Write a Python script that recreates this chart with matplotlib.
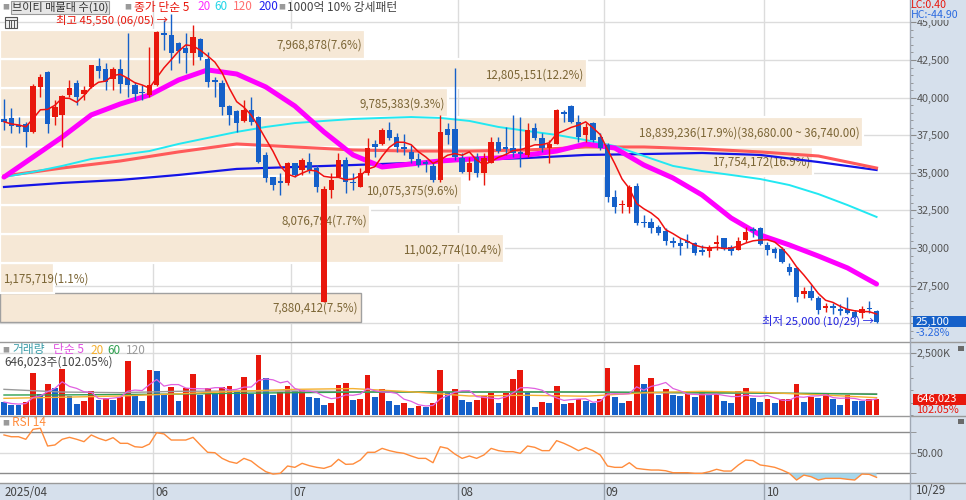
import numpy as np
import pandas as pd
import matplotlib.pyplot as plt
from matplotlib.patches import Rectangle
from matplotlib.lines import Line2D
from matplotlib.ticker import MultipleLocator, FuncFormatter, FixedLocator
from matplotlib.transforms import blended_transform_factory

plt.rcParams['font.family'] = ['Noto Sans CJK KR', 'DejaVu Sans']

W, H, DPI = 966, 500, 100

# ---- daily candles (2025/04/29 .. 2025/10/29), price in won ----
opens = [38600, 38650, 38150, 38250, 37700, 40700, 41700, 38700, 38850, 40150,
         40950, 40250, 40700, 42100, 41900, 41250, 41900, 41300, 40850, 40400,
         40150, 40850, 44300, 44150, 43650, 43300, 42950, 43900, 42550, 41150,
         40950, 39450, 39100, 38450, 39200, 38700, 36200, 34700, 34450, 34350,
         35650, 35200, 35700, 35300, 26400, 33850, 34700, 35850, 34400, 34050,
         35000, 36900, 36950, 37850, 37400, 36700, 36400, 35950, 35700, 35450,
         34550, 37900, 37900, 36000, 35050, 36050, 35000, 35650, 37050, 36700,
         36650, 36400, 36200, 38000, 37300, 36650, 36950, 39050, 39450, 38400,
         37500, 38300, 37400, 36850, 33400, 32850, 32750, 34150, 31750, 31750,
         31400, 31150, 30450, 30350, 30450, 30350, 29850, 29800, 30300, 30650,
         30050, 29850, 30550, 31250, 31350, 30200, 29950, 29950, 28750, 28700,
         26950, 27150, 26700, 26050, 26150, 25950, 25950, 25750, 25700, 26000,
         25800]
highs = [39900, 39300, 38700, 38400, 40900, 41550, 41750, 39850, 40150, 41150,
         41150, 40800, 42200, 42650, 42300, 42050, 42550, 44300, 41050, 40850,
         43350, 44400, 45150, 45550, 43700, 44300, 44850, 43950, 43050, 41350,
         41150, 39500, 39200, 39850, 40050, 38750, 36400, 34750, 35000, 35700,
         35650, 36000, 36300, 35500, 34100, 35000, 36300, 36050, 35000, 35300,
         37300, 37200, 38000, 38400, 37650, 37600, 36850, 36300, 35850, 35650,
         38850, 38300, 41950, 36300, 36050, 36300, 36300, 37400, 37400, 38050,
         38850, 38700, 38300, 38300, 37650, 37200, 39250, 39200, 39500, 38850,
         38300, 38400, 37650, 37000, 33850, 33200, 34200, 34350, 32200, 32000,
         31550, 31350, 30750, 30650, 30950, 30400, 30200, 30200, 30850, 30700,
         30200, 30750, 31400, 31400, 31400, 30400, 30050, 30050, 29000, 28750,
         27400, 27550, 26800, 26350, 26350, 26250, 26750, 25900, 26150, 26500,
         25900]
lows = [37850, 37650, 37650, 36700, 37650, 40050, 37650, 38200, 36700, 40050,
        39500, 39850, 40650, 41300, 40500, 40500, 40300, 40050, 39850, 39850,
        40050, 40800, 43150, 41850, 42300, 41650, 42150, 42500, 40700, 40050,
        38850, 38200, 37700, 38400, 38200, 35650, 34400, 33850, 33550, 34200,
        34700, 34850, 35000, 33750, 26400, 33350, 34700, 33650, 33850, 34050,
        34850, 36050, 36850, 37200, 36400, 36200, 35650, 35400, 35050, 34400,
        34400, 36950, 35850, 35000, 34550, 34700, 34200, 35650, 36300, 36200,
        36050, 35400, 36050, 37200, 36400, 35650, 36950, 38400, 38300, 37050,
        37050, 37050, 36500, 33050, 32350, 32350, 32350, 31550, 31400, 31000,
        30850, 30200, 30050, 29550, 30000, 29550, 29550, 29400, 29850, 29850,
        29550, 29850, 30400, 30750, 30200, 29550, 29350, 29000, 28200, 26400,
        26700, 26550, 25600, 25750, 25650, 25550, 25600, 25350, 25350, 25700,
        25000]
closes = [38400, 38100, 38050, 37700, 40750, 41350, 38250, 39400, 40100, 40650,
          40050, 40500, 42150, 41750, 41050, 41900, 40900, 40850, 40250, 40300,
          40850, 44350, 44150, 42950, 43100, 42950, 44050, 42700, 41050, 41050,
          39400, 38850, 38300, 39200, 38400, 35700, 34650, 34200, 34350, 35650,
          34850, 35850, 35200, 34050, 33900, 34500, 35850, 34400, 34300, 35000,
          36650, 36700, 37850, 37300, 36700, 36600, 35900, 35500, 35600, 34550,
          37700, 37500, 36050, 35050, 35650, 35000, 36000, 37050, 36450, 36600,
          36300, 36250, 37850, 37300, 36650, 36950, 39200, 38900, 38400, 37400,
          38050, 37200, 36650, 33400, 32750, 32950, 34050, 31650, 31650, 31350,
          31000, 30450, 30350, 30150, 30350, 29700, 29750, 30050, 30400, 29950,
          29800, 30450, 31050, 31150, 30250, 29850, 29700, 29050, 28400, 26750,
          27150, 26700, 25900, 26150, 26050, 25850, 25700, 25400, 25950, 25950,
          25100]
volumes = [527000, 405000, 395000, 527000, 1688000, 864000, 1242000, 1080000, 1850000, 756000,
           459000, 567000, 972000, 594000, 675000, 621000, 743000, 2174000, 837000, 581000,
           1809000, 1790000, 837000, 1148000, 581000, 1107000, 1661000, 824000, 1107000, 837000,
           1121000, 1161000, 972000, 1553000, 864000, 2430000, 1485000, 797000, 945000, 1175000,
           972000, 1013000, 729000, 675000, 392000, 500000, 1202000, 1296000, 608000, 648000,
           1634000, 729000, 1040000, 581000, 392000, 473000, 284000, 351000, 324000, 500000,
           1809000, 932000, 1053000, 608000, 527000, 608000, 770000, 905000, 473000, 878000,
           1445000, 1809000, 932000, 311000, 527000, 500000, 1188000, 432000, 473000, 635000,
           554000, 486000, 635000, 1917000, 729000, 473000, 567000, 2025000, 1242000, 1485000,
           797000, 1040000, 810000, 756000, 837000, 729000, 972000, 837000, 850000, 581000,
           500000, 972000, 1107000, 675000, 540000, 648000, 500000, 635000, 650000, 1269000,
           540000, 743000, 675000, 905000, 662000, 392000, 810000, 581000, 570000, 633046,
           646023]
rsi = [67.2, 65.5, 65.5, 63.0, 72.7, 73.7, 56.5, 57.5, 63.0, 64.9,
       63.0, 60.7, 67.2, 64.0, 61.7, 64.6, 59.1, 59.1, 55.8, 55.2,
       58.4, 69.4, 68.2, 62.3, 62.3, 62.3, 64.9, 57.5, 50.4, 50.0,
       44.5, 41.3, 39.7, 44.5, 41.9, 36.4, 31.6, 29.3, 30.0, 37.1,
       35.8, 39.7, 37.4, 35.8, 34.8, 37.1, 43.6, 38.7, 39.0, 42.9,
       50.4, 50.4, 54.2, 52.0, 50.4, 49.4, 46.8, 44.5, 44.5, 40.3,
       55.8, 54.2, 48.7, 44.5, 46.8, 44.5, 47.8, 54.2, 52.0, 51.0,
       51.0, 49.4, 56.5, 55.2, 52.0, 52.0, 61.7, 59.1, 55.8, 52.0,
       54.9, 52.0, 47.8, 37.1, 35.8, 35.8, 40.3, 34.8, 33.9, 33.2,
       33.2, 32.5, 30.6, 30.6, 30.6, 30.0, 30.0, 31.6, 33.9, 32.2,
       32.2, 38.1, 42.9, 42.3, 38.1, 37.1, 35.8, 33.2, 30.0, 23.5,
       28.3, 26.7, 23.5, 25.1, 25.1, 25.1, 24.2, 23.5, 29.3, 29.0,
       26.1]

# moving averages (every 4th / 8th session)
ma20 = [34720, 36050, 37380, 38850, 39580, 40170, 41170, 41840, 41570, 40710,
        39440, 37720, 36190, 35390, 35590, 35790, 35920, 35990, 36190, 36450,
        36920, 36650, 35520, 34660, 33530, 32000, 30870, 30210, 29470, 28680, 27610]
ma60 = [34720, 35060, 35460, 35920, 36190, 36450, 36920, 37320, 37720, 38050,
        38310, 38450, 38580, 38650, 38710, 38650, 38450, 38050, 37780, 37520,
        37180, 36780, 36120, 35460, 35120, 34860, 34590, 34190, 33590, 32860, 32070]
ma120 = [34790, 35320, 35790, 36390, 36920, 36720, 36520, 36450,
         36450, 36520, 36720, 36720, 36590, 36390, 36120, 35320]
ma200 = [34060, 34330, 34530, 34860, 35260, 35390, 35520, 35660,
         35850, 35990, 36190, 36250, 36320, 36190, 35720, 35190]
vol_ma20 = [675, 720, 770, 860, 960, 1040, 1070, 940, 770, 800, 760, 900, 960, 920, 820, 702]
vol_ma60 = [810, 815, 830, 850, 880, 905, 925, 932, 932, 935, 935, 920, 905, 890, 870, 837]
vol_ma120 = [1040, 930, 905, 960, 972, 972, 945, 932, 932, 932, 920, 905, 890, 880, 870, 864]

# 매물대 (volume by price), 10 bands
band_low = [25100, 27040, 28980, 30920, 32860, 34800, 36740, 38680, 40620, 42560]
band_vol = [7880412, 1175719, 11002774, 8076794, 10075375,
            17754172, 18839236, 9785383, 12805151, 7968878]

month_start = [21, 40, 63, 83, 105]
month_label = ['06', '07', '08', '09', '10']
first_label = '2025/04'
last_label = '10/29'
high_date, low_date = '06/05', '10/29'
price_ticks = [25000, 27500, 30000, 32500, 35000, 37500, 40000, 42500, 45000]

RED = '#E8170C'
BLUE = '#1560C9'
STRIP = '#D6E0EC'
BAND = '#F6E8D6'
BAND_TXT = '#7B6535'
GRID = '#DCDCDC'

n = len(closes)
idx = np.arange(n)
o, h, l, c = (np.array(v, float) for v in (opens, highs, lows, closes))
vol = np.array(volumes, float)

fig = plt.figure(figsize=(W / DPI, H / DPI), dpi=DPI, facecolor='white')


def rect(x0, y0, x1, y1):
    return [x0 / W, 1 - y1 / H, (x1 - x0) / W, (y1 - y0) / H]


def ftext(x, y, s, **kw):
    kw.setdefault('fontsize', 8.5)
    kw.setdefault('va', 'center')
    kw.setdefault('zorder', 6)
    return fig.text(x / W, 1 - y / H, s, **kw)


def fbox(x0, y0, x1, y1, **kw):
    fig.add_artist(Rectangle((x0 / W, 1 - y1 / H), (x1 - x0) / W, (y1 - y0) / H,
                             transform=fig.transFigure, **kw))


def fline(x0, y0, x1, y1, **kw):
    fig.add_artist(Line2D([x0 / W, x1 / W], [1 - y0 / H, 1 - y1 / H],
                          transform=fig.transFigure, **kw))


def clean(a):
    for s in a.spines.values():
        s.set_visible(False)
    a.set_xticks([])


fbox(910, 0, 966, 500, fc=STRIP, ec='none', zorder=-10)

XL = (-0.55, 124.6)
PY = (23824, 46488)

# grid layer
axg = fig.add_axes(rect(0, 0, 910, 341), zorder=0)
axg.set_xlim(XL)
axg.set_ylim(PY)
clean(axg)
axg.set_yticks(price_ticks)
axg.tick_params(length=0, labelleft=False)
axg.grid(axis='y', color=GRID, lw=1)
for m in month_start:
    axg.axvline(m - 0.5, color=GRID, lw=1)

# 매물대 layer
axb = fig.add_axes(rect(0, 0, 910, 341), zorder=1)
axb.patch.set_visible(False)
axb.set_axis_off()
axb.set_ylim(PY)
band_px = 863
axb.set_xlim(0, max(band_vol) * 910 / band_px)
step = band_low[1] - band_low[0]
total = sum(band_vol)
imax = int(np.argmax(band_vol))
for k, (lo, bv) in enumerate(zip(band_low, band_vol)):
    cur = lo <= closes[-1] < lo + step
    axb.barh(lo, bv, height=step, align='edge', color=BAND,
             edgecolor='#A0A0A0' if cur else 'white', lw=1.0 if cur else 1.6)
    lab = f"{bv:,}({bv / total * 100:.1f}%)"
    if k == imax:
        lab += f"({lo + step:,.2f} ~ {lo:,.2f})"
    if bv / max(band_vol) * band_px < 100:
        axb.annotate(lab, xy=(0, lo + step / 2), xytext=(3, -1), textcoords='offset pixels',
                     ha='left', va='center', fontsize=8.3, color=BAND_TXT)
    else:
        axb.annotate(lab, xy=(bv, lo + step / 2), xytext=(-3, -1), textcoords='offset pixels',
                     ha='right', va='center', fontsize=8.3, color=BAND_TXT)

# price layer
ax = fig.add_axes(rect(0, 0, 910, 341), zorder=2)
ax.patch.set_visible(False)
ax.set_xlim(XL)
ax.set_ylim(PY)
clean(ax)
ax.yaxis.tick_right()
ax.set_yticks(price_ticks)
# the last-price box sits on top of the nearest tick label
ax.yaxis.set_major_formatter(
    FuncFormatter(lambda v, _: '' if abs(v - closes[-1]) < 600 else f"{v:,.0f}"))
ax.yaxis.set_minor_locator(MultipleLocator(500))
ax.tick_params(axis='y', which='major', length=4, color='#8A8A8A', labelcolor='#555555',
               labelsize=7.8, pad=1)
ax.tick_params(axis='y', which='minor', length=2, color='#8A8A8A')

i4 = np.arange(0, n, 4)
i8 = np.arange(0, n, 8)
ax.plot(i8, ma200, color='#1414E6', lw=1.6, zorder=2)
ax.plot(i8, ma120, color='#FF5A5A', lw=2.2, zorder=2)
ax.plot(i4, ma60, color='#22E8F2', lw=1.4, zorder=2)
ax.plot(i4, ma20, color='#FF00FF', lw=3.6, zorder=2, solid_capstyle='round')

up = c >= o
cols = np.where(up, RED, BLUE)
ax.vlines(idx, l, h, colors=cols, lw=1, zorder=3)
ax.bar(idx, np.abs(c - o), bottom=np.minimum(o, c), width=0.74, color=cols, lw=0, zorder=4)
ma5 = pd.Series(closes).rolling(5, min_periods=1).mean()
ax.plot(idx, ma5, color='#F01010', lw=1.1, zorder=5)

ihi = int(np.argmax(h))
ilo = int(np.argmin(l))
ax.annotate(f"최고 {int(h[ihi]):,} ({high_date}) →", xy=(ihi, h[ihi]), xytext=(-3, -6),
            textcoords='offset pixels', ha='right', va='center', color=RED, fontsize=8.2, zorder=6)
ax.annotate(f"최저 {int(l[ilo]):,} ({low_date}) →", xy=(ilo, l[ilo]), xytext=(-3, 3),
            textcoords='offset pixels', ha='right', va='center', color='#2020E0', fontsize=8.2,
            zorder=6)

# volume panel
axv = fig.add_axes(rect(0, 342, 910, 415), zorder=0)
axv.set_xlim(XL)
axv.set_ylim(0, 2.958e6)
clean(axv)
vcols = [BLUE] + [RED if vol[i] >= vol[i - 1] else BLUE for i in range(1, n)]
axv.axhline(2.5e6, color=GRID, lw=1)
for m in month_start:
    axv.axvline(m - 0.5, color=GRID, lw=1)
axv.bar(idx, vol, width=0.8, color=vcols, lw=0, zorder=2)
axv.plot(i8, np.array(vol_ma120) * 1000, color='#9A9A9A', lw=1, zorder=3)
axv.plot(i8, np.array(vol_ma60) * 1000, color='#30A050', lw=1, zorder=3)
axv.plot(i8, np.array(vol_ma20) * 1000, color='#F5B030', lw=1, zorder=3)
axv.plot(idx, pd.Series(vol).rolling(5, min_periods=1).mean(), color='#E060E0', lw=0.9, zorder=3)
axv.yaxis.tick_right()
axv.set_yticks([2.5e6])
axv.yaxis.set_major_formatter(FuncFormatter(lambda v, _: f"{v / 1000:,.0f}K"))
axv.yaxis.set_minor_locator(MultipleLocator(5e5))
axv.tick_params(axis='y', which='major', length=4, color='#8A8A8A', labelcolor='#555555',
                labelsize=7.8, pad=1)
axv.tick_params(axis='y', which='minor', length=2, color='#8A8A8A')

# RSI panel
axr = fig.add_axes(rect(0, 416, 910, 482.5), zorder=0)
axr.set_xlim(XL)
axr.set_ylim(21.1, 85.6)
clean(axr)
for m in month_start:
    axr.axvline(m - 0.5, color=GRID, lw=1)
axr.axhline(50, color=GRID, lw=1)
axr.axhline(70, color='#8C8C8C', lw=1)
axr.axhline(30, color='#8C8C8C', lw=1)
r = np.array(rsi)
axr.fill_between(idx, r, 30, where=r < 30, interpolate=True, color='#A8D8EC', lw=0, zorder=2)
axr.plot(idx, r, color='#FF8C3C', lw=1, zorder=3)
axr.yaxis.tick_right()
axr.set_yticks([50])
axr.yaxis.set_major_formatter(FuncFormatter(lambda v, _: f"{v:.2f}"))
axr.yaxis.set_minor_locator(FixedLocator([30, 70]))
axr.tick_params(axis='y', which='major', length=4, color='#8A8A8A', labelcolor='#555555',
                labelsize=7.8, pad=1)
axr.tick_params(axis='y', which='minor', length=4, color='#8A8A8A')

# date strip
axd = fig.add_axes(rect(0, 483, 910, 500), zorder=0)
axd.set_xlim(XL)
axd.set_ylim(0, 1)
axd.set_facecolor(STRIP)
clean(axd)
axd.set_yticks([])
bt = blended_transform_factory(axd.transData, axd.transAxes)
axd.text(XL[0] + 0.6, 0.45, first_label, transform=bt, va='center', fontsize=8.3, color='#444444')
for m, lab in zip(month_start, month_label):
    axd.axvline(m - 0.5, color='#9AA4B0', lw=1)
    axd.text(m - 0.25, 0.45, lab, transform=bt, va='center', fontsize=8.3, color='#444444')
ftext(915, 491, last_label, color='#444444', fontsize=8.3)

# panel separators and right axis line
for yy in (341.5, 415.5, 482.5):
    fline(0, yy, 966, yy, color='#9A9A9A', lw=1, zorder=4)
fline(909.5, 0, 909.5, 500, color='#A0A8B4', lw=1, zorder=4)

# header (price)
ftext(2, 7, "■", color='#9A9A9A', fontsize=5)
ftext(12, 7.5, "브이티 매물대 수(10)", color='#333333', fontsize=8,
      bbox=dict(boxstyle='square,pad=0.08', fc='#E6E6E6', ec='#9A9A9A', lw=0.8))
ftext(124, 7, "■", color='#9A9A9A', fontsize=5)
ftext(134, 7, "종가 단순 5", color=RED)
ftext(197, 7, "20", color='#FF30FF')
ftext(214, 7, "60", color='#22D6E8')
ftext(233, 7, "120", color='#FF7070')
ftext(258, 7, "200", color='#2020F0')
ftext(278, 7, "■", color='#9A9A9A', fontsize=5)
ftext(287, 7, "1000억 10% 강세패턴", color='#444444')
fbox(5, 17, 17, 28, fc='#EEEEEE', ec='#555555', lw=0.8, zorder=5)
for xx in (8.5, 11, 13.5):
    fline(xx, 20, xx, 27, color='#555555', lw=0.7, zorder=6)
fline(5, 20, 17, 20, color='#555555', lw=0.7, zorder=6)

# header (volume, RSI)
ftext(2, 350, "■", color='#9A9A9A', fontsize=5)
ftext(12, 350, "거래량", color='#3A9CA8')
ftext(53, 350, "단순 5", color='#E050E0')
ftext(90, 350, "20", color='#F5B030')
ftext(107, 350, "60", color='#30A050')
ftext(126, 350, "120", color='#9A9A9A')
ratio = vol[-1] / vol[-2] * 100
ftext(4, 362, f"{int(vol[-1]):,}주({ratio:.2f}%)", color='#444444')
ftext(2, 423, "■", color='#9A9A9A', fontsize=5)
ftext(12, 423, "RSI 14", color='#FF8C3C')

# right strip labels
lc = (c[-1] - l.min()) / l.min() * 100
hc = (c[-1] - h.max()) / h.max() * 100
chg = (c[-1] - c[-2]) / c[-2] * 100
ftext(911, 4.5, f"LC:{lc:.2f}", color=RED, fontsize=7.6)
ftext(911, 14.5, f"HC:{hc:.2f}", color='#2A6AE0', fontsize=7.6,
      bbox=dict(boxstyle='square,pad=0.02', fc=STRIP, ec='none'))

fig.canvas.draw()
yc = H - ax.transData.transform((0, c[-1]))[1]
fbox(913, yc - 5.5, 966, yc + 5.5, fc=BLUE, ec='none', zorder=5)
ftext(916, yc, f"{int(c[-1]):,}", color='white', fontsize=8)
ftext(916, yc + 11, f"{chg:.2f}%", color='#2A6AE0', fontsize=7.8)

yv = H - axv.transData.transform((0, vol[-1]))[1]
fbox(913, yv - 5.5, 966, yv + 5.5, fc=RED, ec='none', zorder=5)
ftext(916, yv, f"{int(vol[-1]):,}", color='white', fontsize=8)
ftext(916, yv + 11, f"{ratio:.2f}%", color=RED, fontsize=7.8)

fbox(958, 346, 964, 351, fc='#6A6A6A', ec='none', zorder=5)
fbox(958, 419, 964, 424, fc='#6A6A6A', ec='none', zorder=5)

fig.savefig('out.png', dpi=DPI)
